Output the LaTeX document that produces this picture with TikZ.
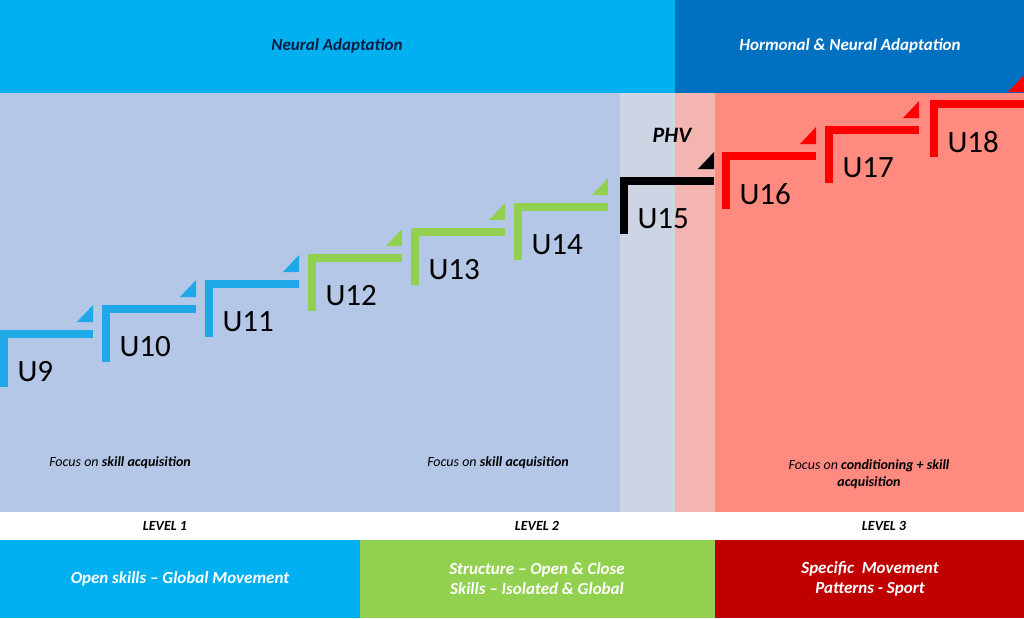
\documentclass[tikz,border=0pt]{standalone}
\usepackage{fontspec}
\setmainfont{Carlito}
\definecolor{topblue}{RGB}{0,176,240}
\definecolor{darkblue}{RGB}{0,112,192}
\definecolor{lavender}{RGB}{180,199,231}
\definecolor{greyblue}{RGB}{205,213,229}
\definecolor{lightpink}{RGB}{244,180,176}
\definecolor{salmon}{RGB}{255,138,128}
\definecolor{stepblue}{RGB}{30,168,232}
\definecolor{stepgreen}{RGB}{146,208,80}
\definecolor{stepred}{RGB}{255,0,0}
\definecolor{barred}{RGB}{192,0,0}
\definecolor{navy}{RGB}{10,30,70}
\tikzset{
  band/.style={font=\bfseries\itshape\fontsize{17}{20}\selectfont},
  level/.style={font=\bfseries\itshape\fontsize{14}{16}\selectfont},
  focus/.style={font=\itshape\fontsize{14}{17}\selectfont,align=center},
  ulabel/.style={font=\fontsize{31}{34}\selectfont,text=black},
}
\begin{document}
\begin{tikzpicture}[x=1pt,y=-1pt]
      \useasboundingbox (0,0) rectangle (1024,618);
      % backgrounds
      \fill[topblue] (0,0) rectangle (675,93);
      \fill[darkblue] (675,0) rectangle (1024,93);
      \fill[lavender] (0,93) rectangle (620,512);
      \fill[greyblue] (620,93) rectangle (675,512);
      \fill[lightpink] (675,93) rectangle (715,512);
      \fill[salmon] (715,93) rectangle (1024,512);
      \fill[white] (0,512) rectangle (1024,540);
      \fill[topblue] (0,540) rectangle (360,618);
      \fill[stepgreen] (360,540) rectangle (715,618);
      \fill[barred] (715,540) rectangle (1024,618);

      \node[band,text=navy] (neural) at (337,46) {Neural Adaptation};
      \node[band,text=white] (hormonal) at (850,46) {Hormonal \& Neural Adaptation};

      % steps
      \foreach \x/\y/\w/\c/\t [count=\i] in {0/330/93/stepblue/U9,102/305/94/stepblue/U10,
          205/280/94/stepblue/U11,308/254/94/stepgreen/U12,411/228/94/stepgreen/U13,
          514/203/94/stepgreen/U14,620/177/94/black/U15,722/152/94/stepred/U16,
          825/126/94/stepred/U17,930/100/94/stepred/U18} {
        \fill[\c] (\x,\y) rectangle ++(8,57);
        \fill[\c] (\x,\y) rectangle ++(\w,8);
        \fill[\c] (\x+\w,\y-25) -- (\x+\w,\y-8) -- (\x+\w-16,\y-8) -- cycle;
        \node[ulabel,anchor=west] (u\i) at (\x+14,\y+42) {\t};
      }
      \node[font=\bfseries\itshape\fontsize{22}{24}\selectfont] (phv) at (672,135) {PHV};

      \node[focus] (focus1) at (120,463) {Focus on \textbf{skill acquisition}};
      \node[focus] (focus2) at (498,463) {Focus on \textbf{skill acquisition}};
      \node[focus] (focus3) at (869,474) {Focus on \textbf{conditioning + skill}\\\textbf{acquisition}};

      \node[level] (lvl1) at (165,526) {LEVEL 1};
      \node[level] (lvl2) at (537,526) {LEVEL 2};
      \node[level] (lvl3) at (884,526) {LEVEL 3};

      \node[band,text=white] (open) at (180,579) {Open skills -- Global Movement};
      \node[band,text=white,align=center] (struct) at (537,579) {Structure -- Open \& Close\\Skills -- Isolated \& Global};
      \node[band,text=white,align=center] (specific) at (870,579) {Specific\ \ Movement\\Patterns - Sport};
\end{tikzpicture}
\end{document}
